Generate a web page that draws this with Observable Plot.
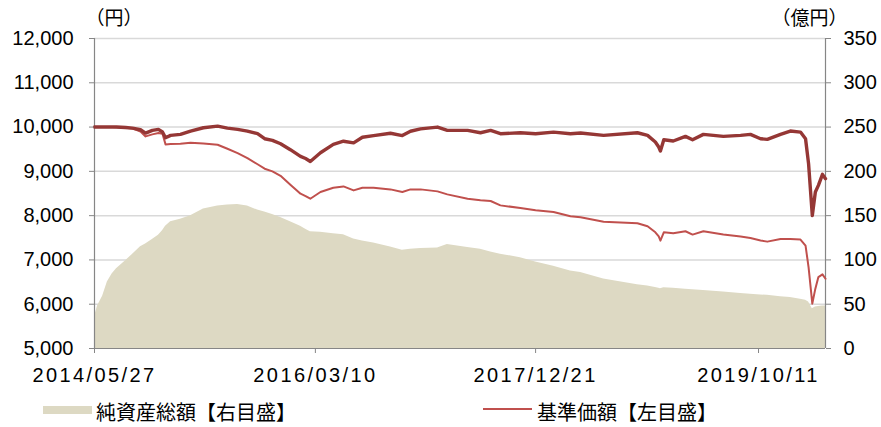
<!DOCTYPE html>
<html><head><meta charset="utf-8">
<script src="https://cdn.jsdelivr.net/npm/d3@7"></script>
<script src="https://cdn.jsdelivr.net/npm/@observablehq/plot@0.6"></script>
<style>
body{margin:0;background:#fff;}
#chart svg g[aria-label="x-axis tick label"] text{letter-spacing:2.4px;}
#legend{position:relative;width:881px;height:37px;font-family:"Noto Sans CJK JP",sans-serif;font-size:20px;color:#000;}
#legend .sw,#legend .tx{position:absolute;}
#legend .tx{line-height:28px;top:8px;white-space:nowrap;}
</style></head><body>
<div id="chart"></div>
<div id="legend"></div>
<script>
const dates = ["2014-05-27","2014-06-05","2014-06-20","2014-07-04","2014-07-18","2014-07-31","2014-08-27","2014-09-16","2014-10-10","2014-10-25",
"2014-11-14","2014-12-02","2014-12-14","2014-12-23","2015-01-07","2015-02-05","2015-03-07","2015-04-14","2015-05-26","2015-06-24",
"2015-07-24","2015-08-22","2015-09-21","2015-10-12","2015-11-04","2015-11-28","2015-12-27","2016-01-26","2016-02-10","2016-02-24",
"2016-03-25","2016-05-02","2016-06-01","2016-07-01","2016-07-27","2016-08-29","2016-10-18","2016-11-22","2016-12-16","2017-01-15",
"2017-03-06","2017-04-04","2017-06-03","2017-07-11","2017-08-10","2017-09-08","2017-11-06","2017-12-21","2018-02-12","2018-04-03",
"2018-05-03","2018-07-10","2018-10-18","2018-11-17","2018-12-10","2018-12-20","2018-12-25","2019-01-04","2019-02-01","2019-03-09",
"2019-03-30","2019-05-01","2019-06-29","2019-08-19","2019-09-17","2019-10-17","2019-11-06","2019-12-15","2020-01-13","2020-02-12",
"2020-02-27","2020-03-07","2020-03-18","2020-03-27","2020-04-05","2020-04-17","2020-04-26"];

// 分配金再投資基準価額（円）
const navReinvest = [10000,10000,10000,10000,10000,10000,9990,9975,9940,9864,
9925,9947,9890,9760,9812,9835,9910,9985,10022,9977,
9947,9910,9850,9737,9700,9624,9489,9338,9290,9224,
9420,9610,9680,9643,9770,9808,9860,9808,9906,9959,
10000,9925,9925,9872,9925,9850,9872,9850,9887,9850,
9865,9812,9872,9812,9662,9549,9459,9715,9685,9790,
9715,9835,9790,9812,9835,9737,9722,9835,9910,9887,
9737,9169,8000,8533,8684,8932,8834];

// 基準価額（円）
const nav = [10000,10000,10000,10000,10000,9995,9985,9970,9900,9789,
9835,9864,9850,9609,9620,9624,9646,9630,9601,9511,
9413,9300,9160,9060,9000,8900,8700,8495,8440,8382,
8533,8630,8660,8570,8630,8630,8593,8533,8593,8593,
8548,8480,8382,8350,8330,8232,8172,8120,8082,7985,
7962,7864,7827,7760,7624,7530,7436,7624,7602,7647,
7572,7647,7572,7527,7497,7440,7413,7474,7474,7459,
7323,6834,6013,6351,6613,6673,6576];

// 純資産総額（億円）
const netAssets = [36,48,59,75,84,90,99,106,115,118,
123,128,133,138,143,146,150,157.5,160.8,162,
162.5,161,156.3,154,151.4,148,143,138,134.5,131.7,
131.2,129.5,128.5,123.5,121.5,119,114.5,111,112,112.9,
113.4,117.4,114,112,109,106.5,102.5,97.7,93,87.5,
85.7,78.5,72.1,70.5,69,68,67.6,68.7,68,67,
66.3,65.5,63.8,62.2,61.2,60.5,60,58.5,57.5,55.6,
54.5,52.4,45,46.8,47.3,47.9,47.9];

const leftTicks = [5000,6000,7000,8000,9000,10000,11000,12000];
const rightTicks = [0,50,100,150,200,250,300,350];
const xTickLabels = ["2014/05/27","2016/03/10","2017/12/21","2019/10/11"];
const unitLeft = "（円）";
const unitRight = "（億円）";
const legendLabels = ["純資産総額【右目盛】","基準価額【左目盛】"];

const colArea = "#DDD9C3", colNav = "#C0504D", colReinvest = "#953735", colAxis = "#868686", colGrid = "#d9d9d9";

const parse = d3.utcParse("%Y-%m-%d");
const parseTick = d3.utcParse("%Y/%m/%d");
const k = (leftTicks[leftTicks.length-1]-leftTicks[0])/(rightTicks[rightTicks.length-1]-rightTicks[0]);
const toLeft = v => leftTicks[0] + (v - rightTicks[0]) * k;
const rows = dates.map((d,i)=>({date: parse(d), nav: nav[i], reinvest: navReinvest[i], assets: toLeft(netAssets[i])}));
const xDomain = [rows[0].date, rows[rows.length-1].date];
const xTicks = xTickLabels.map(parseTick);

const chart = Plot.plot({
  width: 881, height: 390,
  marginLeft: 94, marginRight: 56, marginTop: 38, marginBottom: 42,
  style: {fontFamily: "'Liberation Sans', Arial, sans-serif", fontSize: "20px", color: "#000", background: "#fff", overflow: "visible"},
  x: {type: "utc", domain: xDomain},
  y: {domain: [leftTicks[0], leftTicks[leftTicks.length-1]]},
  marks: [
    Plot.ruleY(leftTicks.slice(1), {stroke: colGrid, strokeWidth: 1.5}),
    Plot.areaY(rows, {x: "date", y1: leftTicks[0], y2: "assets", fill: colArea}),
    Plot.ruleY([leftTicks[0]], {stroke: colAxis, strokeWidth: 1.2}),
    Plot.ruleX(xDomain, {stroke: colAxis, strokeWidth: 1.2}),
    Plot.line(rows, {x: "date", y: "nav", stroke: colNav, strokeWidth: 2}),
    Plot.line(rows, {x: "date", y: "reinvest", stroke: colReinvest, strokeWidth: 3.4}),
    Plot.axisY({anchor: "left", ticks: leftTicks, tickFormat: d3.format(","), tickSize: 5, tickPadding: 16, label: null, stroke: colAxis, fill: "#000", fontSize: 20}),
    Plot.axisY({anchor: "right", ticks: rightTicks.map(toLeft), tickFormat: (d,i) => String(rightTicks[i]), tickSize: 5, tickPadding: 13, label: null, stroke: colAxis, fill: "#000", fontSize: 20}),
    Plot.axisX({ticks: xTicks, tickFormat: (d,i) => xTickLabels[i], tickSize: 5, tickPadding: 14, label: null, stroke: colAxis, fill: "#000", fontSize: 20}),
    Plot.text([unitLeft], {frameAnchor: "top-left", text: d => d, dx: -9, dy: -20, textAnchor: "start", lineAnchor: "middle", fontFamily: "Noto Sans CJK JP", fontSize: 19, fill: "#000"}),
    Plot.text([unitRight], {frameAnchor: "top-right", text: d => d, dx: 22, dy: -20, textAnchor: "end", lineAnchor: "middle", fontFamily: "Noto Sans CJK JP", fontSize: 19, fill: "#000"})
  ]
});
document.getElementById("chart").appendChild(chart);

const lg = document.getElementById("legend");
const items = [
  {label: legendLabels[0], sw: {left: 43, top: 16, width: 49, height: 8, bg: colArea}, tx: 96},
  {label: legendLabels[1], sw: {left: 483, top: 18, width: 49, height: 2, bg: colNav}, tx: 537}
];
items.forEach(it => {
  const s = document.createElement("div");
  s.className = "sw";
  Object.assign(s.style, {left: it.sw.left+"px", top: it.sw.top+"px", width: it.sw.width+"px", height: it.sw.height+"px", background: it.sw.bg});
  lg.appendChild(s);
  const t = document.createElement("div");
  t.className = "tx";
  t.style.left = it.tx + "px";
  t.textContent = it.label;
  lg.appendChild(t);
});
</script>
</body></html>
